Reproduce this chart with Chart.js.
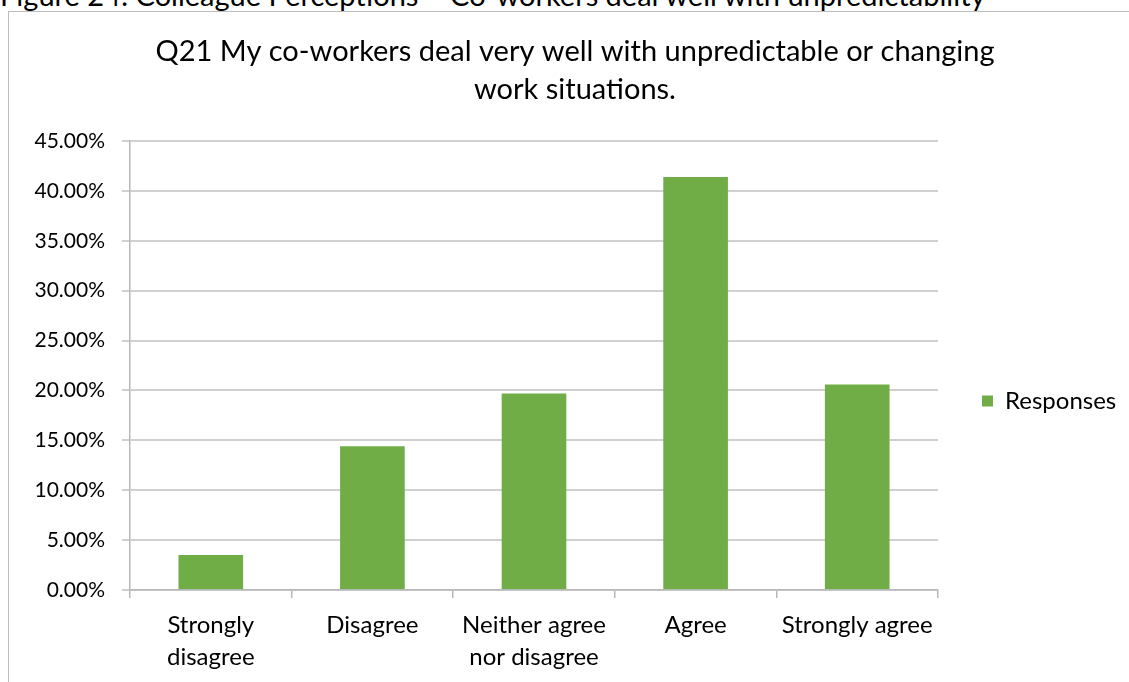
<!DOCTYPE html>
<html>
<head>
<meta charset="utf-8">
<script src="https://cdn.jsdelivr.net/npm/chart.js@4/dist/chart.umd.min.js"></script>
<style>
  html, body { margin: 0; padding: 0; background: #fff; width: 1129px; height: 682px; overflow: hidden; }
  #caption { position: absolute; left: 0px; top: -20px; font-family: Lato, sans-serif; font-size: 29px; line-height: 29px; white-space: nowrap; color: #000; }
  #frame { position: absolute; left: 8px; top: 11px; width: 1140px; height: 700px; border: 1px solid #bdbdbd; }
  #chart { position: absolute; left: 0; top: 0; }
</style>
</head>
<body>
<div id="caption">Figure 24: Colleague Perceptions – Co-workers deal well with unpredictability</div>
<div id="frame"></div>
<canvas id="chart" width="1129" height="682"></canvas>
<script>
// Survey answers for Q21 (share of respondents, %)
const categories = [['Strongly', 'disagree'], 'Disagree', ['Neither agree', 'nor disagree'], 'Agree', 'Strongly agree'];
const responses = [3.5, 14.4, 19.7, 41.4, 20.6];
const yTickValues = [0, 5, 10, 15, 20, 25, 30, 35, 40, 45];
const titleLines = ['Q21 My co-workers deal very well with unpredictable or changing', 'work situations.'];
const seriesName = 'Responses';

const FONT = 'Lato, "Open Sans", sans-serif';
const GREEN = '#70AD47';
const GRID = '#d0d0d0';
const AXIS = '#b8b8b8';

// Keeps the legend column at a fixed width and lowers it a little
const legendPlacement = {
  id: 'legendPlacement',
  beforeLayout(chart) {
    const lg = chart.legend;
    if (lg && !lg.__fixedWidth) {
      const fit = lg.fit;
      lg.fit = function () { fit.call(this); this.width = 191; };
      lg.__fixedWidth = true;
    }
  },
  afterLayout(chart) {
    const lg = chart.legend;
    if (lg) { lg.top += 60; lg.bottom += 60; }
  }
};

new Chart(document.getElementById('chart'), {
  type: 'bar',
  data: {
    labels: categories,
    datasets: [{
      label: seriesName,
      data: responses,
      backgroundColor: GREEN,
      borderWidth: 0,
      categoryPercentage: 1,
      barPercentage: 0.4
    }]
  },
  options: {
    responsive: false,
    animation: false,
    layout: { padding: { left: 21, right: 0, top: 0, bottom: 0 } },
    plugins: {
      title: {
        display: true,
        text: titleLines,
        color: '#000',
        font: { family: FONT, size: 29, weight: 'normal', lineHeight: '38px' },
        padding: { top: 33, bottom: 32 }
      },
      legend: {
        position: 'right',
        align: 'center',
        labels: {
          color: '#000',
          font: { family: FONT, size: 24 },
          boxWidth: 11,
          boxHeight: 11,
          padding: 44
        }
      },
      tooltip: { enabled: false }
    },
    scales: {
      x: {
        offset: true,
        grid: { display: true, offset: true, drawOnChartArea: false, drawTicks: true, tickLength: 8, color: AXIS, lineWidth: 1.5 },
        border: { display: true, color: AXIS, width: 1.5 },
        ticks: {
          color: '#000',
          font: { family: FONT, size: 24, lineHeight: '32px' },
          padding: 11,
          maxRotation: 0,
          autoSkip: false
        },
        afterFit(s) { s.height = 92; }
      },
      y: {
        min: 0,
        max: 45,
        afterBuildTicks(s) { s.ticks = yTickValues.map(v => ({ value: v })); },
        grid: { color: GRID, lineWidth: 2, tickLength: 8, drawTicks: true },
        border: { display: true, color: AXIS, width: 1.5 },
        ticks: {
          color: '#000',
          font: { family: FONT, size: 21 },
          padding: 17,
          callback: v => v.toFixed(2) + '%'
        },
        afterFit(s) { s.width = 109; }
      }
    }
  },
  plugins: [legendPlacement]
});
</script>
</body>
</html>
